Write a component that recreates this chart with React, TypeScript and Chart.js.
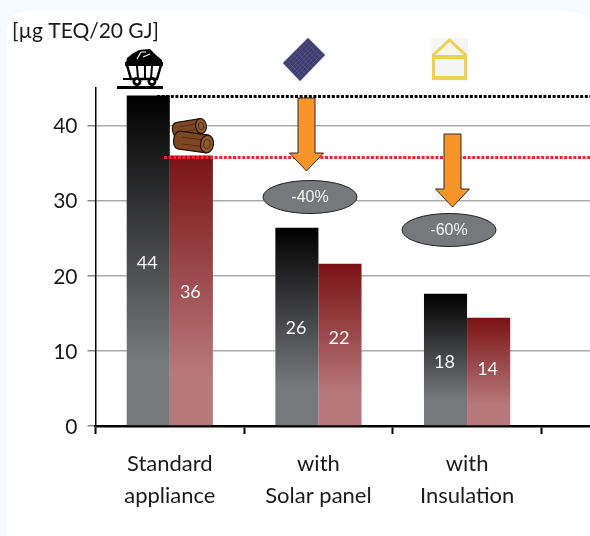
import React, { useEffect, useRef } from "react";
import { Chart, registerables } from "chart.js";

Chart.register(...registerables);

const categories = [["Standard", "appliance"], ["with", "Solar panel"], ["with", "Insulation"], ""];
const coalValues = [44, 26.4, 17.6, null];
const woodValues = [36, 21.6, 14.4, null];
const yTicks = [0, 10, 20, 30, 40];
const yMax = 45;
const unitLabel = "[µg TEQ/20 GJ]";
const reductions = ["-40%", "-60%"];
const FONT = "Lato, 'Open Sans', sans-serif";
const labelShift = [[2, 1, 2], [1, -7, -3]];

function barGradient(top: string, bottom: string) {
  return (c: any) => {
    const y = c.chart.scales?.y;
    if (!y || c.raw == null) return top;
    const y0 = y.getPixelForValue(c.raw);
    const y1 = y.getPixelForValue(0);
    if (!Number.isFinite(y0) || !Number.isFinite(y1)) return top;
    const g = c.chart.ctx.createLinearGradient(0, y0, 0, y1);
    g.addColorStop(0, top);
    g.addColorStop(0.8, bottom);
    g.addColorStop(1, bottom);
    return g;
  };
}

function arrow(ctx: CanvasRenderingContext2D, x: number, top: number, shoulder: number, tip: number) {
  ctx.beginPath();
  ctx.moveTo(x - 8.5, top);
  ctx.lineTo(x + 8.5, top);
  ctx.lineTo(x + 8.5, shoulder);
  ctx.lineTo(x + 17, shoulder);
  ctx.lineTo(x, tip);
  ctx.lineTo(x - 17, shoulder);
  ctx.lineTo(x - 8.5, shoulder);
  ctx.closePath();
  ctx.fillStyle = "#f7952b";
  ctx.strokeStyle = "#2b2b2b";
  ctx.lineWidth = 1;
  ctx.fill();
  ctx.stroke();
}

function ellipse(ctx: CanvasRenderingContext2D, x: number, y: number, label: string) {
  ctx.beginPath();
  ctx.ellipse(x, y, 47, 16.5, 0, 0, Math.PI * 2);
  ctx.fillStyle = "#77787b";
  ctx.strokeStyle = "#222";
  ctx.lineWidth = 1;
  ctx.fill();
  ctx.stroke();
  ctx.fillStyle = "#f2f2f2";
  ctx.font = "16px 'Liberation Sans', sans-serif";
  ctx.textAlign = "center";
  ctx.textBaseline = "middle";
  ctx.fillText(label, x, y + 1);
}

function drawCart(ctx: CanvasRenderingContext2D) {
  ctx.save();
  ctx.fillStyle = "#000";
  ctx.fillRect(117, 86, 46, 3);
  // coal heap
  ctx.beginPath();
  ctx.moveTo(126, 63);
  ctx.lineTo(127, 58);
  ctx.lineTo(132, 54);
  ctx.lineTo(139, 50);
  ctx.lineTo(150, 49);
  ctx.lineTo(156, 55);
  ctx.lineTo(162, 60);
  ctx.lineTo(162, 63);
  ctx.closePath();
  ctx.fill();
  ctx.strokeStyle = "#fff";
  ctx.lineWidth = 1.2;
  ctx.beginPath();
  ctx.moveTo(137, 59);
  ctx.lineTo(141, 52);
  ctx.moveTo(143, 57);
  ctx.lineTo(150, 54);
  ctx.moveTo(141, 52);
  ctx.lineTo(146, 52);
  ctx.stroke();
  // tub rim and body
  ctx.fillStyle = "#000";
  ctx.fillRect(125, 62, 38, 4);
  ctx.strokeStyle = "#000";
  ctx.lineWidth = 2.5;
  ctx.beginPath();
  ctx.moveTo(127, 65);
  ctx.lineTo(131, 79);
  ctx.lineTo(157, 79);
  ctx.lineTo(161, 65);
  ctx.stroke();
  ctx.lineWidth = 2;
  ctx.beginPath();
  ctx.moveTo(137, 66);
  ctx.lineTo(138, 78);
  ctx.moveTo(145, 66);
  ctx.lineTo(145, 78);
  ctx.moveTo(152, 66);
  ctx.lineTo(151, 78);
  ctx.moveTo(123, 79);
  ctx.lineTo(131, 79);
  ctx.stroke();
  // wheels
  [137, 152].forEach((x) => {
    ctx.beginPath();
    ctx.arc(x, 81.5, 4.5, 0, Math.PI * 2);
    ctx.fillStyle = "#000";
    ctx.fill();
    ctx.beginPath();
    ctx.arc(x, 81.5, 1.7, 0, Math.PI * 2);
    ctx.fillStyle = "#fff";
    ctx.fill();
  });
  ctx.restore();
}

function drawLog(ctx: CanvasRenderingContext2D, x1: number, y1: number, x2: number, y2: number, r: number) {
  const a = Math.atan2(y2 - y1, x2 - x1);
  ctx.save();
  ctx.translate(x1, y1);
  ctx.rotate(a);
  const len = Math.hypot(x2 - x1, y2 - y1);
  ctx.fillStyle = "#7d4726";
  ctx.strokeStyle = "#231208";
  ctx.lineWidth = 1.2;
  ctx.beginPath();
  ctx.moveTo(0, -r);
  ctx.lineTo(len, -r);
  ctx.lineTo(len, r);
  ctx.lineTo(0, r);
  ctx.ellipse(0, 0, r * 0.6, r, 0, Math.PI / 2, (3 * Math.PI) / 2);
  ctx.closePath();
  ctx.fill();
  ctx.stroke();
  ctx.strokeStyle = "#4d2913";
  ctx.lineWidth = 0.8;
  ctx.beginPath();
  ctx.moveTo(3, -r * 0.35);
  ctx.lineTo(len - 4, -r * 0.4);
  ctx.moveTo(4, r * 0.4);
  ctx.lineTo(len - 6, r * 0.35);
  ctx.stroke();
  ctx.beginPath();
  ctx.ellipse(len, 0, r * 0.72, r, 0, 0, Math.PI * 2);
  ctx.fillStyle = "#8f5a33";
  ctx.strokeStyle = "#231208";
  ctx.lineWidth = 1.2;
  ctx.fill();
  ctx.stroke();
  ctx.beginPath();
  ctx.ellipse(len, 0, r * 0.35, r * 0.5, 0, 0, Math.PI * 2);
  ctx.lineWidth = 0.6;
  ctx.stroke();
  ctx.restore();
}

function drawPanel(ctx: CanvasRenderingContext2D) {
  const c: [number, number][] = [[308, 38], [325, 55], [300, 81], [283, 63]];
  ctx.save();
  ctx.beginPath();
  c.forEach((p, i) => (i ? ctx.lineTo(p[0], p[1]) : ctx.moveTo(p[0], p[1])));
  ctx.closePath();
  ctx.fillStyle = "#3b3b6d";
  ctx.shadowColor = "rgba(120,120,150,.6)";
  ctx.shadowBlur = 2;
  ctx.fill();
  ctx.shadowBlur = 0;
  ctx.clip();
  ctx.strokeStyle = "rgba(130,130,175,.55)";
  ctx.lineWidth = 0.6;
  for (let i = 1; i < 8; i++) {
    const t = i / 8;
    ctx.beginPath();
    ctx.moveTo(c[0][0] + (c[1][0] - c[0][0]) * t, c[0][1] + (c[1][1] - c[0][1]) * t);
    ctx.lineTo(c[3][0] + (c[2][0] - c[3][0]) * t, c[3][1] + (c[2][1] - c[3][1]) * t);
    ctx.moveTo(c[0][0] + (c[3][0] - c[0][0]) * t, c[0][1] + (c[3][1] - c[0][1]) * t);
    ctx.lineTo(c[1][0] + (c[2][0] - c[1][0]) * t, c[1][1] + (c[2][1] - c[1][1]) * t);
    ctx.stroke();
  }
  ctx.restore();
}

function drawHouse(ctx: CanvasRenderingContext2D) {
  ctx.save();
  ctx.fillStyle = "#f3f6f4";
  ctx.fillRect(431, 38, 37, 43);
  ctx.strokeStyle = "#f0cf55";
  ctx.lineWidth = 3;
  ctx.beginPath();
  ctx.moveTo(433.5, 80);
  ctx.lineTo(433.5, 55);
  ctx.lineTo(449.5, 40);
  ctx.lineTo(465.5, 55);
  ctx.lineTo(465.5, 80);
  ctx.stroke();
  ctx.lineWidth = 4;
  ctx.beginPath();
  ctx.moveTo(433, 57);
  ctx.lineTo(466, 57);
  ctx.moveTo(433, 78);
  ctx.lineTo(466, 78);
  ctx.stroke();
  ctx.restore();
}

const overlay = {
  id: "overlay",
  afterDatasetsDraw(chart: any) {
    const { ctx, scales } = chart;
    const y = scales.y;
    // data labels
    ctx.save();
    ctx.fillStyle = "#f4f4f4";
    ctx.font = `18px ${FONT}`;
    ctx.textAlign = "center";
    ctx.textBaseline = "middle";
    chart.data.datasets.forEach((ds: any, i: number) => {
      chart.getDatasetMeta(i).data.forEach((bar: any, j: number) => {
        if (ds.data[j] == null) return;
        ctx.fillText(String(Math.round(ds.data[j])), bar.x - 1, (bar.y + bar.base) / 2 + 1 + labelShift[i][j]);
      });
    });
    // reference lines
    ctx.lineWidth = 3;
    ctx.setLineDash([3, 1.6]);
    const coalY = Math.round(y.getPixelForValue(coalValues[0] as number)) + 0.5;
    const woodY = Math.round(y.getPixelForValue(woodValues[0] as number)) + 1.5;
    ctx.strokeStyle = "#000";
    ctx.beginPath();
    ctx.moveTo(157, coalY);
    ctx.lineTo(590, coalY);
    ctx.stroke();
    ctx.strokeStyle = "#f0262a";
    ctx.beginPath();
    ctx.moveTo(164, woodY);
    ctx.lineTo(590, woodY);
    ctx.stroke();
    ctx.setLineDash([]);
    arrow(ctx, 306.5, 98, 153, 171);
    arrow(ctx, 452.5, 134, 189, 207);
    ellipse(ctx, 310, 197, reductions[0]);
    ellipse(ctx, 449, 230, reductions[1]);
    drawCart(ctx);
    drawLog(ctx, 177, 130, 201, 126, 7.5);
    drawLog(ctx, 179, 140, 207, 144, 9);
    drawPanel(ctx);
    drawHouse(ctx);
    ctx.fillStyle = "#1a1a1a";
    ctx.font = `21px ${FONT}`;
    ctx.textAlign = "left";
    ctx.textBaseline = "middle";
    ctx.fillText(unitLabel, 12, 31);
    ctx.restore();
  },
};

export default function App() {
  const ref = useRef<HTMLCanvasElement>(null);
  useEffect(() => {
    const chart = new Chart(ref.current!, {
      type: "bar",
      data: {
        labels: categories as any,
        datasets: [
          { label: "Coal", data: coalValues, backgroundColor: barGradient("#000000", "#77787c") as any },
          { label: "Wood", data: woodValues, backgroundColor: barGradient("#7a1214", "#b7787b") as any },
        ],
      },
      options: {
        responsive: false,
        animation: false,
        layout: { padding: { top: 88, left: 0, right: 0, bottom: 0 } },
        plugins: { legend: { display: false }, tooltip: { enabled: false } },
        datasets: { bar: { categoryPercentage: 0.58, barPercentage: 1 } },
        scales: {
          x: {
            grid: { drawOnChartArea: false, tickLength: 8, tickColor: "#000", tickWidth: 2, offset: true },
            border: { color: "#000", width: 2.5 },
            ticks: {
              color: "#1a1a1a",
              font: { family: FONT, size: 22, lineHeight: 1.45 },
              maxRotation: 0,
              autoSkip: false,
              padding: 14,
            },
            afterFit: (s: any) => {
              s.height = 110;
            },
          },
          y: {
            min: 0,
            max: yMax,
            afterBuildTicks: (s: any) => {
              s.ticks = yTicks.map((value) => ({ value }));
            },
            grid: { color: "#aaaaaa", tickColor: "#888888", tickLength: 8, lineWidth: 1.5 } as any,
            border: { color: "#000", width: 1.5 },
            ticks: { color: "#1a1a1a", font: { family: FONT, size: 21 }, padding: 10, labelOffset: 1 },
            afterFit: (s: any) => {
              s.width = 95.5;
            },
          },
        },
      },
      plugins: [overlay],
    } as any);
    return () => chart.destroy();
  }, []);
  return (
    <div style={{ position: "fixed", inset: 0, overflow: "hidden", background: "#f5fafe" }}>
      <div
        style={{
          position: "absolute",
          left: 7,
          top: 11,
          width: 610,
          height: 600,
          background: "#fff",
          borderRadius: "20px 55px 0 0",
        }}
      />
      <canvas
        ref={ref}
        width={690}
        height={536}
        style={{ position: "absolute", left: 0, top: 0, display: "block" }}
      />
    </div>
  );
}
